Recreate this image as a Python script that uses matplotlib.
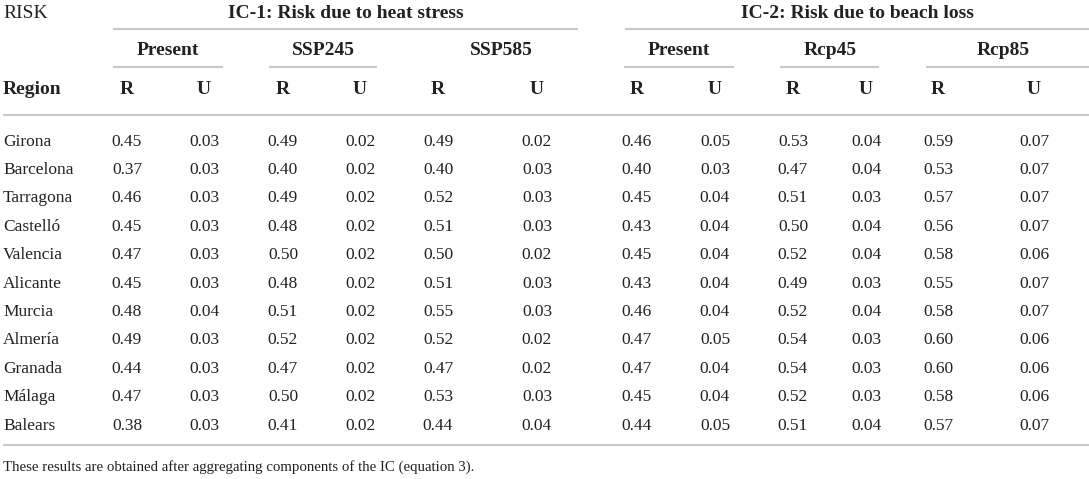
"""Table: risk (R) and uncertainty (U) per region for IC-1 and IC-2."""
import matplotlib

matplotlib.use("Agg")
import matplotlib.pyplot as plt

# ── data ──
regions = ["Girona", "Barcelona", "Tarragona", "Castelló", "Valencia", "Alicante",
           "Murcia", "Almería", "Granada", "Málaga", "Balears"]

ic1_present_r = [0.45, 0.37, 0.46, 0.45, 0.47, 0.45, 0.48, 0.49, 0.44, 0.47, 0.38]
ic1_present_u = [0.03, 0.03, 0.03, 0.03, 0.03, 0.03, 0.04, 0.03, 0.03, 0.03, 0.03]
ic1_ssp245_r = [0.49, 0.40, 0.49, 0.48, 0.50, 0.48, 0.51, 0.52, 0.47, 0.50, 0.41]
ic1_ssp245_u = [0.02, 0.02, 0.02, 0.02, 0.02, 0.02, 0.02, 0.02, 0.02, 0.02, 0.02]
ic1_ssp585_r = [0.49, 0.40, 0.52, 0.51, 0.50, 0.51, 0.55, 0.52, 0.47, 0.53, 0.44]
ic1_ssp585_u = [0.02, 0.03, 0.03, 0.03, 0.02, 0.03, 0.03, 0.02, 0.02, 0.03, 0.04]

ic2_present_r = [0.46, 0.40, 0.45, 0.43, 0.45, 0.43, 0.46, 0.47, 0.47, 0.45, 0.44]
ic2_present_u = [0.05, 0.03, 0.04, 0.04, 0.04, 0.04, 0.04, 0.05, 0.04, 0.04, 0.05]
ic2_rcp45_r = [0.53, 0.47, 0.51, 0.50, 0.52, 0.49, 0.52, 0.54, 0.54, 0.52, 0.51]
ic2_rcp45_u = [0.04, 0.04, 0.03, 0.04, 0.04, 0.03, 0.04, 0.03, 0.03, 0.03, 0.04]
ic2_rcp85_r = [0.59, 0.53, 0.57, 0.56, 0.58, 0.55, 0.58, 0.60, 0.60, 0.58, 0.57]
ic2_rcp85_u = [0.07, 0.07, 0.07, 0.07, 0.06, 0.07, 0.07, 0.06, 0.06, 0.06, 0.07]

ic_titles = ["IC-1: Risk due to heat stress", "IC-2: Risk due to beach loss"]
scenarios = ["Present", "SSP245", "SSP585", "Present", "Rcp45", "Rcp85"]
footnote = "These results are obtained after aggregating components of the IC (equation 3)."

columns = [ic1_present_r, ic1_present_u, ic1_ssp245_r, ic1_ssp245_u,
           ic1_ssp585_r, ic1_ssp585_u, ic2_present_r, ic2_present_u,
           ic2_rcp45_r, ic2_rcp45_u, ic2_rcp85_r, ic2_rcp85_u]

# ── layout (pixel coordinates, y downwards) ──
W, H = 1089, 479
col_x = [127, 204, 283, 360, 438, 537, 637, 715, 793, 866, 938, 1034]
scen_x = [168, 323, 501, 679, 830, 1003]
scen_lines = [(113, 223), (269, 377), None, (624, 734), (780, 879), (926, 1089)]
ic_x = [346, 857]
ic_lines = [(113, 578), (625, 1089)]
row0, row_step = 140, 28.4

TXT = "#222222"
LINE = "#c8c8c8"
plt.rcParams["font.family"] = ["Liberation Serif", "DejaVu Serif"]

fig = plt.figure(figsize=(W / 100, H / 100), dpi=100)
ax = fig.add_axes([0, 0, 1, 1])
ax.set_xlim(0, W)
ax.set_ylim(H, 0)
ax.axis("off")

fs = 12.5    # body
hfs = 14     # headers
bl = 5.5     # centre -> baseline offset, px


def put(x, y, s, size=fs, ha="center", **kw):
    ax.text(x, y + size * 0.44, s, fontsize=size, color=TXT, va="baseline", ha=ha, **kw)


put(3, 12, "RISK", hfs, ha="left")
for x, t in zip(ic_x, ic_titles):
    put(x, 12, t, hfs, weight="bold")
for x0, x1 in ic_lines:
    ax.plot([x0, x1], [29, 29], color=LINE, lw=1.5, solid_capstyle="butt")

for x, t in zip(scen_x, scenarios):
    put(x, 49, t, hfs, weight="bold")
for seg in scen_lines:
    if seg:
        ax.plot(seg, [67, 67], color=LINE, lw=1.5, solid_capstyle="butt")

put(3, 88, "Region", hfs, ha="left", weight="bold")
for i, x in enumerate(col_x):
    put(x, 88, "R" if i % 2 == 0 else "U", hfs, weight="bold")
ax.plot([3, W], [115, 115], color=LINE, lw=1.5, solid_capstyle="butt")

for r, name in enumerate(regions):
    y = row0 + r * row_step
    put(3, y, name, ha="left")
    for x, vals in zip(col_x, columns):
        put(x, y, f"{vals[r]:.2f}")

ax.plot([3, W], [445, 445], color=LINE, lw=1.5, solid_capstyle="butt")
put(3, 466, footnote, 10.7, ha="left")

fig.savefig("out.png", dpi=100)
